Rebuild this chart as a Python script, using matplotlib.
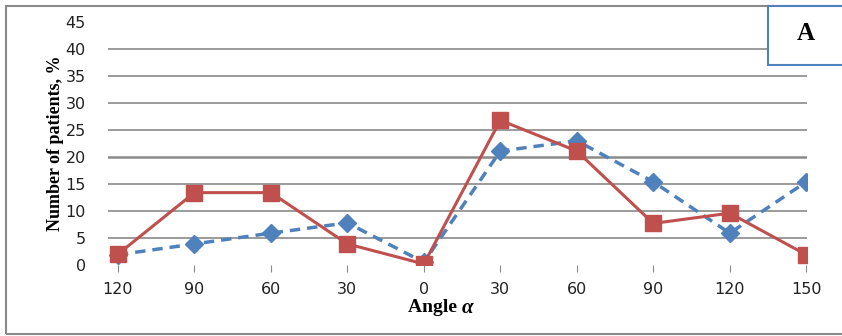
import matplotlib.pyplot as plt
from matplotlib.patches import Rectangle

# category labels along the x axis (angle alpha, degrees)
angles = ['120', '90', '60', '30', '0', '30', '60', '90', '120', '150']
# series values, % of patients
red_vals = [2.0, 13.4, 13.4, 3.9, 0.2, 26.8, 21.1, 7.7, 9.6, 1.9]
blue_vals = [1.9, 3.9, 5.9, 7.8, 0.5, 21.1, 23.0, 15.4, 5.9, 15.4]
y_ticks = [0, 5, 10, 15, 20, 25, 30, 35, 40, 45]

red = '#C0504D'
blue = '#4F81BD'

fig = plt.figure(figsize=(8.42, 3.36), dpi=100)
ax = fig.add_axes([108 / 842, 1 - 265 / 336, (807 - 108) / 842, (265 - 22) / 336])

x = list(range(len(angles)))

# gridlines (no line at 0 and 45)
for v in y_ticks[1:-1]:
    lw = 1.8 if v == 20 else 1.2
    ax.axhline(v, color='#8a8a8a', lw=lw, zorder=0)

ax.plot(x, blue_vals, color=blue, lw=2.5, ls=(0, (3, 2)), marker='D',
        markersize=9, markerfacecolor=blue, markeredgecolor=blue, zorder=3)
ax.plot(x, red_vals, color=red, lw=2.2, marker='s', markersize=12,
        markerfacecolor=red, markeredgecolor=red, zorder=4)

ax.set_xlim(-0.13, 9.01)
ax.set_ylim(0, 45)
ax.set_xticks(x)
ax.set_xticklabels(angles)
ax.set_yticks(y_ticks)
for s in ax.spines.values():
    s.set_visible(False)
ax.tick_params(axis='x', length=5, color='#8a8a8a', pad=7, labelsize=11.5, labelcolor='#222222')
ax.tick_params(axis='y', length=0, pad=16, labelsize=11.5, labelcolor='#222222')

ax.set_ylabel('Number of patients, %', family='Liberation Serif', fontweight='bold',
              fontsize=13, labelpad=1)

# x axis title: bold "Angle" with a bold italic alpha
fig.text(462 / 842, 1 - 308 / 336, 'Angle ', family='Liberation Serif', fontweight='bold',
         fontsize=14, ha='right', va='center')
fig.text(462 / 842, 1 - 308 / 336, 'α', family='Liberation Serif', fontweight='bold',
         fontstyle='italic', fontsize=15, ha='left', va='center')

# outer chart border
fig.patches.append(Rectangle((6 / 842, 2 / 336), 1.0, 328 / 336, transform=fig.transFigure,
                             fill=False, edgecolor='#8a8a8a', lw=1.5, zorder=0))
# panel label box
fig.patches.append(Rectangle((768 / 842, 1 - 65 / 336), 0.2, 59 / 336, transform=fig.transFigure,
                             facecolor='white', edgecolor=blue, lw=1.5, zorder=5))
fig.text(806 / 842, 1 - 33 / 336, 'A', family='Liberation Serif', fontweight='bold',
         fontsize=18, ha='center', va='center', zorder=6)

fig.savefig('out.png', dpi=100)
